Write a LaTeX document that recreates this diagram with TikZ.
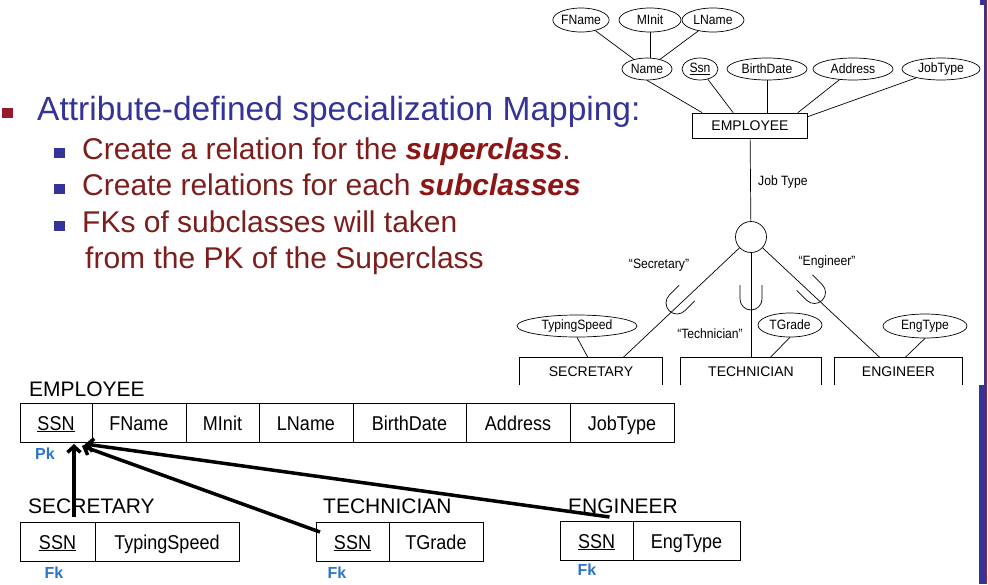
\documentclass[tikz,border=0pt]{standalone}
\usepackage{fontspec}
\setmainfont{Liberation Sans}
\newfontfamily\narrowfont[FakeStretch=0.9]{Liberation Sans}
\usetikzlibrary{positioning,shapes.geometric,arrows.meta,calc}
\definecolor{TitleClr}{RGB}{51,51,153}
\definecolor{TextClr}{RGB}{125,30,28}
\definecolor{EmphClr}{RGB}{140,22,22}
\definecolor{BulletRed}{RGB}{150,25,45}
\definecolor{KeyClr}{RGB}{45,115,200}
\definecolor{BarRed}{RGB}{160,30,50}

\begin{document}
\begin{tikzpicture}[x=1pt,y=-1pt,
  attr/.style={draw,ellipse,inner sep=0pt,line width=.7pt,font=\narrowfont\fontsize{13.5}{15}\selectfont},
  entity/.style={inner sep=0pt,line width=.7pt,font=\fontsize{14}{16}\selectfont},
  erline/.style={line width=.7pt},
  quoted/.style={font=\narrowfont\fontsize{13.5}{15}\selectfont},
  bullettext/.style={anchor=base west,inner sep=0pt,text=TextClr,font=\fontsize{30}{36}\selectfont},
  relname/.style={anchor=base west,inner sep=0pt,font=\fontsize{21}{24}\selectfont},
  cell/.style={draw,line width=.9pt,inner sep=0pt,outer sep=0pt,minimum height=39pt,text height=15pt,text depth=0pt,font=\narrowfont\fontsize{20}{24}\selectfont},
  keylabel/.style={inner sep=0pt,text=KeyClr,font=\bfseries\fontsize{16}{18}\selectfont},
  fk/.style={line width=3.5pt,-{Straight Barb[length=6pt,width=13pt]}},
  cup/.pic={\draw[line width=.7pt] (-11,-14) -- (-11,0) arc[start angle=180,end angle=0,radius=11] -- (11,-14);}]
\useasboundingbox (0,0) rectangle (988,584);

\fill[BulletRed] (2,108) rectangle (13,118);
\node[anchor=base west,inner sep=0pt,text=TitleClr,font=\fontsize{33.5}{40}\selectfont] (title) at (37,120) {Attribute-defined specialization Mapping:};
\foreach \y in {159,195,232}
  \fill[TitleClr] (54,\y-11) rectangle (65,\y-1);
\node[bullettext] (rule1) at (82,159) {Create a relation for the \textcolor{EmphClr}{\textbf{\textit{superclass}}}.};
\node[bullettext] (rule2) at (82,195) {Create relations for each \textcolor{EmphClr}{\textbf{\textit{subclasses}}}};
\node[bullettext] (rule3) at (82,232) {FKs of subclasses will taken};
\node[bullettext] (rule4) at (85,268) {from the PK of the Superclass};

\node[attr,minimum width=56pt,minimum height=24pt] (fname) at (581,20) {FName};
\node[attr,minimum width=62pt,minimum height=24pt] (minit) at (650,20) {MInit};
\node[attr,minimum width=62pt,minimum height=24pt] (lname) at (713,20) {LName};
\node[attr,minimum width=50pt,minimum height=22pt] (name) at (647,69) {Name};
\node[attr,minimum width=36pt,minimum height=22pt] (ssn) at (700,69) {\underline{Ssn}};
\node[attr,minimum width=80pt,minimum height=22pt] (bdate) at (767,69) {BirthDate};
\node[attr,minimum width=80pt,minimum height=22pt] (addr) at (853,69) {Address};
\node[attr,minimum width=78pt,minimum height=22pt] (jtype) at (941,69) {JobType};
\node[entity,draw,minimum width=115pt,minimum height=25pt] (emp) at (750,125.5) {EMPLOYEE};

\draw[erline] (fname) -- (name);
\draw[erline] (minit) -- (minit |- name.north);
\draw[erline] (lname) -- (name);
\draw[erline] (name.south) -- ([xshift=10pt]emp.north west);
\draw[erline] (ssn) -- ([xshift=41pt]emp.north west);
\draw[erline] (bdate.south) -- (bdate.south |- emp.north);
\draw[erline] (addr) -- ([xshift=-10pt]emp.north east);
\draw[erline] (jtype) -- ([yshift=-4pt]emp.north east);

\node[draw,circle,line width=.7pt,minimum size=31pt,inner sep=0pt] (d) at (751,237) {};
\draw[erline] (emp) -- (d);
\node[quoted,anchor=west,inner sep=0pt] (jtlabel) at (758,182) {Job Type};

\node[entity,minimum width=142pt,minimum height=27pt] (sec) at (591,371.5) {SECRETARY};
\node[entity,minimum width=140pt,minimum height=27pt] (tech) at (751,371.5) {TECHNICIAN};
\node[entity,minimum width=127pt,minimum height=27pt] (eng) at (898.5,371.5) {ENGINEER};
\foreach \b in {sec,tech,eng}
  \draw[erline] (\b.south west) |- (\b.north east) -- (\b.south east);

\draw[erline] (d) -- ([xshift=32pt]sec.north);
\draw[erline] (d) -- (tech.north);
\draw[erline] (d) -- ([xshift=-18.5pt]eng.north);
\pic[rotate=-45] at (677,303) {cup};
\pic at (751,299) {cup};
\pic[rotate=45] at (814.5,292.5) {cup};

\node[quoted] (qsec) at (659,265) {“Secretary”};
\node[quoted] (qeng) at (827,262) {“Engineer”};
\node[quoted] (qtech) at (710,334) {“Technician”};

\node[attr,minimum width=120pt,minimum height=22pt] (tspeed) at (577,326) {TypingSpeed};
\node[attr,minimum width=64pt,minimum height=24pt] (tgrade) at (790,325) {TGrade};
\node[attr,minimum width=84pt,minimum height=24pt] (etype) at (925,326) {EngType};
\draw[erline] (tspeed.south) -- ([xshift=-3pt]sec.north);
\draw[erline] (tgrade.south) -- ([xshift=19pt]tech.north);
\draw[erline] (etype.south) -- ([xshift=6.5pt]eng.north);

\node[relname] (empname) at (29,396) {EMPLOYEE};
\node[cell,minimum width=72pt,anchor=north west] (empSSN) at (20,403) {\underline{SSN}};
\node[cell,minimum width=94pt,right=0pt of empSSN] (empFName) {FName};
\node[cell,minimum width=73pt,right=0pt of empFName] (empMInit) {MInit};
\node[cell,minimum width=94pt,right=0pt of empMInit] (empLName) {LName};
\node[cell,minimum width=113pt,right=0pt of empLName] (empBDate) {BirthDate};
\node[cell,minimum width=104pt,right=0pt of empBDate] (empAddr) {Address};
\node[cell,minimum width=104pt,right=0pt of empAddr] (empJType) {JobType};
\node[keylabel] (pk) at (45,454) {Pk};

\node[relname] (secname) at (28,513) {SECRETARY};
\node[cell,minimum width=75pt,anchor=north west] (secSSN) at (20,522) {\underline{SSN}};
\node[cell,minimum width=144pt,right=0pt of secSSN] (secSpeed) {TypingSpeed};
\node[keylabel] (fksec) at (54,573) {Fk};

\node[relname] (techname) at (323,513) {TECHNICIAN};
\node[cell,minimum width=73pt,anchor=north west] (techSSN) at (316,522) {\underline{SSN}};
\node[cell,minimum width=94pt,right=0pt of techSSN] (techGrade) {TGrade};
\node[keylabel] (fktech) at (337,573) {Fk};

\node[relname] (engname) at (568,513) {ENGINEER};
\node[cell,minimum width=73pt,anchor=north west] (engSSN) at (560,521) {\underline{SSN}};
\node[cell,minimum width=107pt,right=0pt of engSSN] (engEType) {EngType};
\node[keylabel] (fkeng) at (587,570) {Fk};

\draw[fk] ($(secSSN.north)+(16.5,-5)$) -- ($(empSSN.south)+(18,2)$);
\draw[fk] ($(techSSN.north west)+(4,10)$) -- ($(empSSN.south east)+(-10,4)$);
\draw[fk] ($(engSSN.north)+(13,-4)$) -- ($(empSSN.south east)+(-7,2)$);

\fill[TitleClr] (980,0) rectangle (986,5);
\fill[TitleClr] (983.5,0) rectangle (986,385);
\fill[TitleClr] (979,385) rectangle (986,584);
\fill[BarRed] (986,0) rectangle (987,584);
\end{tikzpicture}
\end{document}
